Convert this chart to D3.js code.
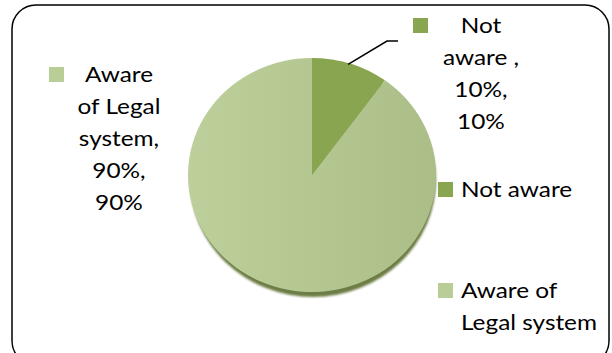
<!DOCTYPE html>
<html>
<head>
<meta charset="utf-8">
<script src="https://cdn.jsdelivr.net/npm/d3@7"></script>
<style>
  html, body { margin: 0; padding: 0; background: #fff; }
  svg { display: block; }
  text { font-family: Lato, "Open Sans", sans-serif; fill: #000; }
</style>
</head>
<body>
<svg id="chart" width="612" height="353"></svg>
<script>
// Awareness of the legal system
const categories = ["Not aware", "Aware of Legal system"];
const values = [10, 90];
const colors = ["#8aa550", "url(#lightFill)"];
const legendColors = ["#8aa550", "#b9cd96"];
// Data label text lines for each slice
const labelLines = [
  ["Not", "aware ,", "10%,", "10%"],
  ["Aware", "of Legal", "system,", "90%,", "90%"]
];
const legendLines = [["Not aware"], ["Aware of", "Legal system"]];

const svg = d3.select("#chart");
const fontSize = 21, lineH = 32, stretch = 1.16;

const defs = svg.append("defs");
const grad = defs.append("linearGradient").attr("id", "lightFill")
  .attr("x1", "0%").attr("x2", "100%").attr("y1", "0%").attr("y2", "0%");
grad.append("stop").attr("offset", "0%").attr("stop-color", "#bdd09b");
grad.append("stop").attr("offset", "100%").attr("stop-color", "#abbe88");
defs.append("filter").attr("id", "soft")
  .append("feGaussianBlur").attr("stdDeviation", 1.2);

// Chart frame
svg.append("rect")
  .attr("x", 12).attr("y", 5).attr("width", 597).attr("height", 360)
  .attr("rx", 24).attr("ry", 24)
  .attr("fill", "#fff").attr("stroke", "#000").attr("stroke-width", 1.5);

// Pie geometry
const cx = 312, cy = 175, r = 124, sy = 117 / 124;
const pie = d3.pie().sort(null).value(d => d)
  .startAngle(0).endAngle(2 * Math.PI);
const arcs = pie(values);
const arc = d3.arc().innerRadius(0).outerRadius(r);

// Drop shadow below the disc
svg.append("ellipse")
  .attr("cx", cx + 1).attr("cy", cy + 5)
  .attr("rx", r - 1).attr("ry", r * sy)
  .attr("fill", "#6c7d44").attr("filter", "url(#soft)");

const g = svg.append("g")
  .attr("transform", `translate(${cx},${cy}) scale(1,${sy})`);
g.selectAll("path").data(arcs).enter().append("path")
  .attr("d", arc)
  .attr("fill", (d, i) => colors[i]);

// Leader line for the small slice
const mid = (arcs[0].startAngle + arcs[0].endAngle) / 2;
const ex = cx + Math.sin(mid * 0.95) * r * 0.99;
const ey = cy - Math.cos(mid * 0.95) * r * sy * 0.99;
svg.append("polyline")
  .attr("points", [[ex, ey], [387, 41], [398, 41]].map(p => p.join(",")).join(" "))
  .attr("fill", "none").attr("stroke", "#000").attr("stroke-width", 1.5);

// Text block widened horizontally around an anchor x
function textBlock(x, y0, lines, anchor) {
  const t = svg.append("text")
    .attr("text-anchor", anchor)
    .attr("font-size", fontSize)
    .attr("transform", `translate(${x},0) scale(${stretch},1)`);
  lines.forEach((ln, j) => {
    t.append("tspan").attr("x", 0).attr("y", y0 + j * lineH).text(ln);
  });
}

// Data labels: legend key before the first line, lines centered
const labelSpecs = [
  { key: [413, 18], cx: 481, y0: 33 },
  { key: [49, 67], cx: 119, y0: 82 }
];
labelSpecs.forEach((s, i) => {
  svg.append("rect").attr("x", s.key[0]).attr("y", s.key[1])
    .attr("width", 15).attr("height", 15).attr("fill", legendColors[i]);
  textBlock(s.cx, s.y0, labelLines[i], "middle");
});

// Legend
const legendY = [182, 283];
categories.forEach((c, i) => {
  svg.append("rect").attr("x", 438).attr("y", legendY[i])
    .attr("width", 15).attr("height", 15).attr("fill", legendColors[i]);
  textBlock(461, legendY[i] + 15, legendLines[i], "start");
});
</script>
</body>
</html>
